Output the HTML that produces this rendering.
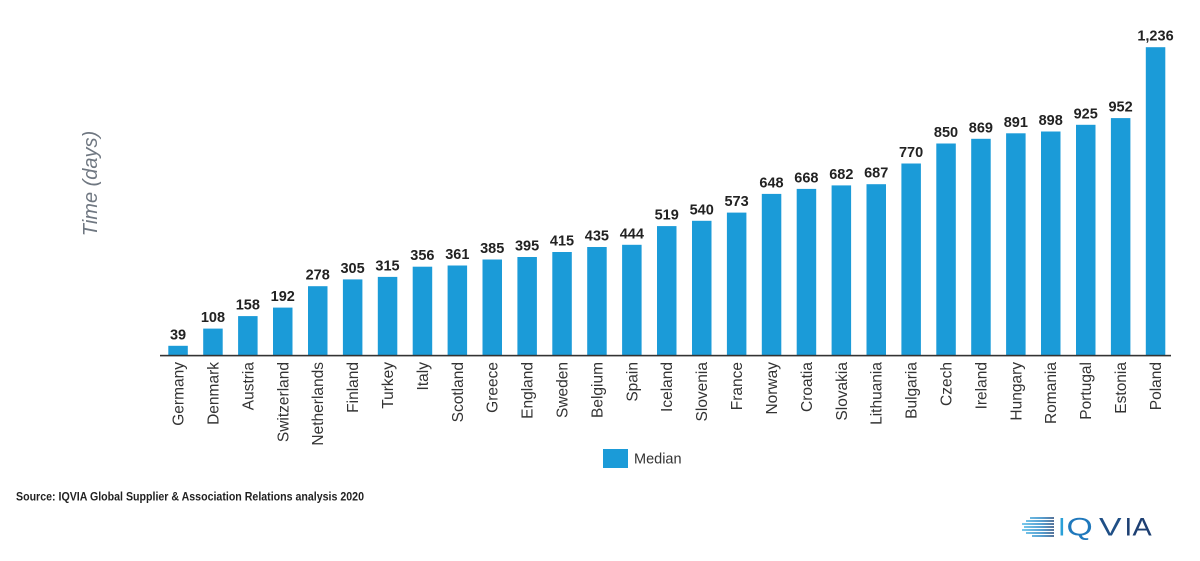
<!DOCTYPE html>
<html>
<head>
<meta charset="utf-8">
<style>
html,body{margin:0;padding:0;background:#fff;}
svg{display:block;}
.v{font-family:"Liberation Sans",Arial,sans-serif;font-weight:bold;font-size:14.5px;fill:#222;text-anchor:middle;}
.c{font-family:"Liberation Sans",Arial,sans-serif;font-size:15.5px;fill:#333;text-anchor:end;}
</style>
</head>
<body>
<svg width="1200" height="561" viewBox="0 0 1200 561" xmlns="http://www.w3.org/2000/svg">
<defs>
<linearGradient id="lg" gradientUnits="userSpaceOnUse" x1="1022" y1="0" x2="1055" y2="0">
<stop offset="0" stop-color="#4db8e6"/>
<stop offset="0.6" stop-color="#1f7fc0"/>
<stop offset="1" stop-color="#1d3f72"/>
</linearGradient>
</defs>
<rect width="1200" height="561" fill="#fff"/>

<!-- y axis title -->
<text transform="translate(97,183.5) rotate(-90)" font-family="Liberation Sans, Arial, sans-serif" font-style="italic" font-size="20" fill="#6f7781" text-anchor="middle">Time (days)</text>

<!-- bars -->
<g fill="#1b9bd8">
<rect x="168.3" y="345.8" width="19.5" height="9.7"/>
<rect x="203.2" y="328.6" width="19.5" height="26.9"/>
<rect x="238.1" y="316.1" width="19.5" height="39.4"/>
<rect x="273.0" y="307.6" width="19.5" height="47.9"/>
<rect x="308.0" y="286.2" width="19.5" height="69.3"/>
<rect x="342.9" y="279.4" width="19.5" height="76.1"/>
<rect x="377.8" y="276.9" width="19.5" height="78.6"/>
<rect x="412.7" y="266.7" width="19.5" height="88.8"/>
<rect x="447.6" y="265.5" width="19.5" height="90.0"/>
<rect x="482.5" y="259.5" width="19.5" height="96.0"/>
<rect x="517.4" y="257.0" width="19.5" height="98.5"/>
<rect x="552.3" y="252.0" width="19.5" height="103.5"/>
<rect x="587.2" y="247.0" width="19.5" height="108.5"/>
<rect x="622.1" y="244.8" width="19.5" height="110.7"/>
<rect x="657.0" y="226.1" width="19.5" height="129.4"/>
<rect x="692.0" y="220.8" width="19.5" height="134.7"/>
<rect x="726.9" y="212.6" width="19.5" height="142.9"/>
<rect x="761.8" y="193.9" width="19.5" height="161.6"/>
<rect x="796.7" y="188.9" width="19.5" height="166.6"/>
<rect x="831.6" y="185.4" width="19.5" height="170.1"/>
<rect x="866.5" y="184.2" width="19.5" height="171.3"/>
<rect x="901.4" y="163.5" width="19.5" height="192.0"/>
<rect x="936.3" y="143.5" width="19.5" height="212.0"/>
<rect x="971.2" y="138.8" width="19.5" height="216.7"/>
<rect x="1006.1" y="133.3" width="19.5" height="222.2"/>
<rect x="1041.0" y="131.5" width="19.5" height="224.0"/>
<rect x="1076.0" y="124.8" width="19.5" height="230.7"/>
<rect x="1110.9" y="118.1" width="19.5" height="237.4"/>
<rect x="1145.8" y="47.2" width="19.5" height="308.3"/>
</g>

<!-- baseline -->
<rect x="160" y="354.8" width="1011" height="1.6" fill="#333"/>

<!-- value labels -->
<text class="v" x="178.05" y="339.3">39</text>
<text class="v" x="212.95" y="322.1">108</text>
<text class="v" x="247.85" y="309.6">158</text>
<text class="v" x="282.75" y="301.1">192</text>
<text class="v" x="317.7" y="279.7">278</text>
<text class="v" x="352.6" y="272.9">305</text>
<text class="v" x="387.5" y="270.4">315</text>
<text class="v" x="422.4" y="260.2">356</text>
<text class="v" x="457.3" y="259.0">361</text>
<text class="v" x="492.2" y="253.0">385</text>
<text class="v" x="527.1" y="250.5">395</text>
<text class="v" x="562.0" y="245.5">415</text>
<text class="v" x="596.9" y="240.5">435</text>
<text class="v" x="631.8" y="238.3">444</text>
<text class="v" x="666.7" y="219.6">519</text>
<text class="v" x="701.7" y="214.3">540</text>
<text class="v" x="736.6" y="206.1">573</text>
<text class="v" x="771.5" y="187.4">648</text>
<text class="v" x="806.4" y="182.4">668</text>
<text class="v" x="841.3" y="178.9">682</text>
<text class="v" x="876.2" y="177.7">687</text>
<text class="v" x="911.1" y="157.0">770</text>
<text class="v" x="946.0" y="137.0">850</text>
<text class="v" x="980.9" y="132.3">869</text>
<text class="v" x="1015.8" y="126.8">891</text>
<text class="v" x="1050.7" y="125.0">898</text>
<text class="v" x="1085.7" y="118.3">925</text>
<text class="v" x="1120.6" y="111.6">952</text>
<text class="v" x="1155.5" y="40.7">1,236</text>

<!-- category labels -->
<text class="c" transform="translate(183.55,362) rotate(-90)">Germany</text>
<text class="c" transform="translate(218.45,362) rotate(-90)">Denmark</text>
<text class="c" transform="translate(253.35,362) rotate(-90)">Austria</text>
<text class="c" transform="translate(288.25,362) rotate(-90)">Switzerland</text>
<text class="c" transform="translate(323.2,362) rotate(-90)">Netherlands</text>
<text class="c" transform="translate(358.1,362) rotate(-90)">Finland</text>
<text class="c" transform="translate(393.0,362) rotate(-90)">Turkey</text>
<text class="c" transform="translate(427.9,362) rotate(-90)">Italy</text>
<text class="c" transform="translate(462.8,362) rotate(-90)">Scotland</text>
<text class="c" transform="translate(497.7,362) rotate(-90)">Greece</text>
<text class="c" transform="translate(532.6,362) rotate(-90)">England</text>
<text class="c" transform="translate(567.5,362) rotate(-90)">Sweden</text>
<text class="c" transform="translate(602.4,362) rotate(-90)">Belgium</text>
<text class="c" transform="translate(637.3,362) rotate(-90)">Spain</text>
<text class="c" transform="translate(672.2,362) rotate(-90)">Iceland</text>
<text class="c" transform="translate(707.2,362) rotate(-90)">Slovenia</text>
<text class="c" transform="translate(742.1,362) rotate(-90)">France</text>
<text class="c" transform="translate(777.0,362) rotate(-90)">Norway</text>
<text class="c" transform="translate(811.9,362) rotate(-90)">Croatia</text>
<text class="c" transform="translate(846.8,362) rotate(-90)">Slovakia</text>
<text class="c" transform="translate(881.7,362) rotate(-90)">Lithuania</text>
<text class="c" transform="translate(916.6,362) rotate(-90)">Bulgaria</text>
<text class="c" transform="translate(951.5,362) rotate(-90)">Czech</text>
<text class="c" transform="translate(986.4,362) rotate(-90)">Ireland</text>
<text class="c" transform="translate(1021.3,362) rotate(-90)">Hungary</text>
<text class="c" transform="translate(1056.2,362) rotate(-90)">Romania</text>
<text class="c" transform="translate(1091.2,362) rotate(-90)">Portugal</text>
<text class="c" transform="translate(1126.1,362) rotate(-90)">Estonia</text>
<text class="c" transform="translate(1161.0,362) rotate(-90)">Poland</text>

<!-- legend -->
<rect x="603" y="449" width="25" height="19" fill="#1b9bd8"/>
<text x="634" y="463.5" font-family="Liberation Sans, Arial, sans-serif" font-size="14.5" fill="#333">Median</text>

<!-- source -->
<text x="16" y="500.5" font-family="Liberation Sans, Arial, sans-serif" font-weight="bold" font-size="11.5" fill="#222" textLength="348" lengthAdjust="spacingAndGlyphs">Source: IQVIA Global Supplier &amp; Association Relations analysis 2020</text>

<!-- logo -->
<g stroke="url(#lg)" stroke-width="1.6" fill="none">
<path d="M1030 518 H1054"/>
<path d="M1026 521 H1054"/>
<path d="M1022 524 H1054"/>
<path d="M1024 527 H1054"/>
<path d="M1022 530 H1054"/>
<path d="M1026 533 H1054"/>
<path d="M1032 536 H1054"/>
</g>
<g font-family="Liberation Sans, Arial, sans-serif" font-size="25">
<text transform="translate(1058,535.5) scale(1.1,1)" fill="#2aa0d8">I</text>
<text transform="translate(1066.5,535.5) scale(1.35,1)" fill="#1f78bc">Q</text>
<text transform="translate(1099,535.5) scale(1.35,1)" fill="#1f4f86">V</text>
<text transform="translate(1124.5,535.5) scale(1.1,1)" fill="#1d3f72">I</text>
<text transform="translate(1132.5,535.5) scale(1.15,1)" fill="#1d3f72">A</text>
</g>
</svg>
</body>
</html>
